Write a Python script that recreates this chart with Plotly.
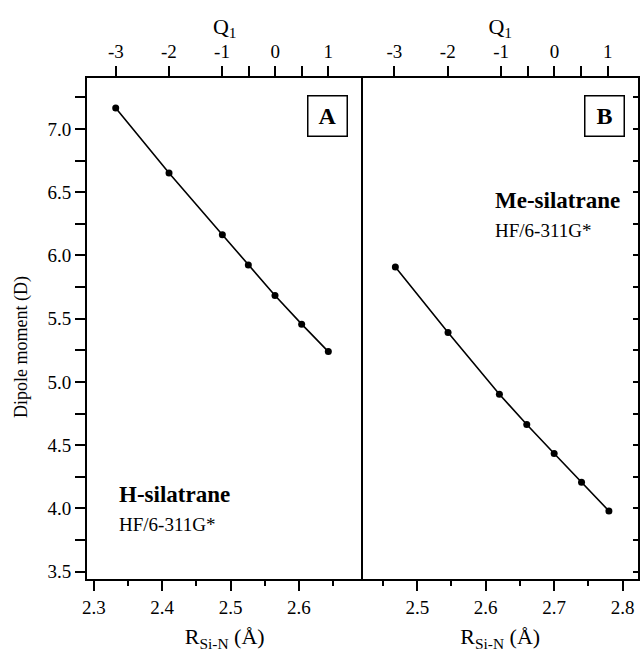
import numpy as np
import plotly.graph_objects as go

# ---------------- data ----------------
Q1 = [-3, -2, -1, -0.5, 0, 0.5, 1]
Q_labels = ["-3", "-2", "-1", "", "0", "", "1"]

R_H = [2.332, 2.410, 2.488, 2.526, 2.565, 2.604, 2.643]
mu_H = [7.166, 6.652, 6.164, 5.924, 5.684, 5.457, 5.240]

R_Me = [2.468, 2.545, 2.620, 2.660, 2.700, 2.740, 2.780]
mu_Me = [5.908, 5.391, 4.903, 4.663, 4.434, 4.207, 3.980]

R_range_H = [2.290, 2.693]
R_range_Me = [2.420, 2.8225]
mu_range = [3.442, 7.403]

mu_ticks = [3.5, 3.75, 4.0, 4.25, 4.5, 4.75, 5.0, 5.25, 5.5, 5.75, 6.0, 6.25, 6.5, 6.75, 7.0, 7.25]
mu_labels = ["3.5", "", "4.0", "", "4.5", "", "5.0", "", "5.5", "", "6.0", "", "6.5", "", "7.0", ""]

FONT = "Liberation Serif"


def q_range(R, r_range):
    a, b = np.polyfit(Q1, R, 1)
    return [(r_range[0] - b) / a, (r_range[1] - b) / a]


fig = go.Figure()
line_style = dict(color="black", width=1.6)
marker_style = dict(color="black", size=7, symbol="circle")

fig.add_trace(go.Scatter(x=R_H, y=mu_H, mode="lines+markers", line=line_style,
                         marker=marker_style, xaxis="x", yaxis="y", showlegend=False))
fig.add_trace(go.Scatter(x=R_Me, y=mu_Me, mode="lines+markers", line=line_style,
                         marker=marker_style, xaxis="x2", yaxis="y2", showlegend=False))
# carriers for the top Q1 axes
fig.add_trace(go.Scatter(x=Q1, y=mu_H, mode="markers", marker=dict(opacity=0),
                         xaxis="x3", yaxis="y", showlegend=False, hoverinfo="skip"))
fig.add_trace(go.Scatter(x=Q1, y=mu_Me, mode="markers", marker=dict(opacity=0),
                         xaxis="x4", yaxis="y2", showlegend=False, hoverinfo="skip"))

tickfont = dict(family=FONT, size=19, color="black")
titlefont = dict(family=FONT, size=22, color="black")

common = dict(showgrid=False, zeroline=False, showline=True, linecolor="black",
              linewidth=2, tickcolor="black", tickwidth=2, tickfont=tickfont)

bottom_x = dict(common, ticks="outside", ticklen=10, dtick=0.1, tick0=2.3,
                tickformat=".1f",
                minor=dict(ticks="outside", ticklen=5, dtick=0.05, tick0=2.3,
                           tickcolor="black", tickwidth=2),
                title=dict(text="R<sub>Si-N</sub> (Å)", font=titlefont, standoff=12))
top_x = dict(common, ticks="outside", ticklen=10, side="top",
             tickvals=Q1, ticktext=Q_labels,
             title=dict(text="Q<sub>1</sub>", font=titlefont, standoff=0))

fig.update_layout(
    width=640, height=652,
    margin=dict(l=87, r=2, t=78, b=73),
    paper_bgcolor="white", plot_bgcolor="white",
    font=dict(family=FONT, color="black"),
    xaxis=dict(bottom_x, domain=[0, 0.5], anchor="y", range=R_range_H),
    xaxis2=dict(bottom_x, domain=[0.5, 1], anchor="y2", range=R_range_Me),
    xaxis3=dict(top_x, overlaying="x", anchor="y", range=q_range(R_H, R_range_H)),
    xaxis4=dict(top_x, overlaying="x2", anchor="y2", range=q_range(R_Me, R_range_Me)),
    yaxis=dict(common, domain=[0, 1], anchor="x", range=mu_range, mirror=False,
               ticks="outside", ticklen=10, tickvals=mu_ticks, ticktext=mu_labels),
    yaxis2=dict(common, domain=[0, 1], anchor="x2", range=mu_range, side="right",
                mirror=True, ticks="inside", ticklen=5, tickvals=mu_ticks,
                showticklabels=False),
)

ann = []
ann.append(dict(text="Dipole moment (D)", xref="paper", yref="paper", x=-0.1198, y=0.463,
                textangle=-90, showarrow=False, font=dict(family=FONT, size=18, color="black"),
                xanchor="center", yanchor="middle"))
for lbl, xc in (("A", 0.4356), ("B", 0.9383)):
    ann.append(dict(text="<b>%s</b>" % lbl, xref="paper", yref="paper", x=xc, y=0.9251,
                    showarrow=False, font=dict(family=FONT, size=24, color="black"),
                    bordercolor="black", borderwidth=1.5, borderpad=0, width=38, height=39,
                    xanchor="center", yanchor="middle"))
ann.append(dict(text="<b>H-silatrane</b>", xref="paper", yref="paper", x=0.0544, y=0.1677,
                showarrow=False, font=dict(family=FONT, size=23, color="black"),
                xanchor="left", yanchor="middle"))
ann.append(dict(text="HF/6-311G*", xref="paper", yref="paper", x=0.0544, y=0.1078,
                showarrow=False, font=dict(family=FONT, size=19, color="black"),
                xanchor="left", yanchor="middle"))
ann.append(dict(text="<b>Me-silatrane</b>", xref="paper", yref="paper", x=0.737, y=0.755,
                showarrow=False, font=dict(family=FONT, size=23, color="black"),
                xanchor="left", yanchor="middle"))
ann.append(dict(text="HF/6-311G*", xref="paper", yref="paper", x=0.737, y=0.6966,
                showarrow=False, font=dict(family=FONT, size=19, color="black"),
                xanchor="left", yanchor="middle"))
fig.update_layout(annotations=ann)

fig.write_html("out.html", config={"displayModeBar": False},
               post_script="document.body.style.margin='0px';")
